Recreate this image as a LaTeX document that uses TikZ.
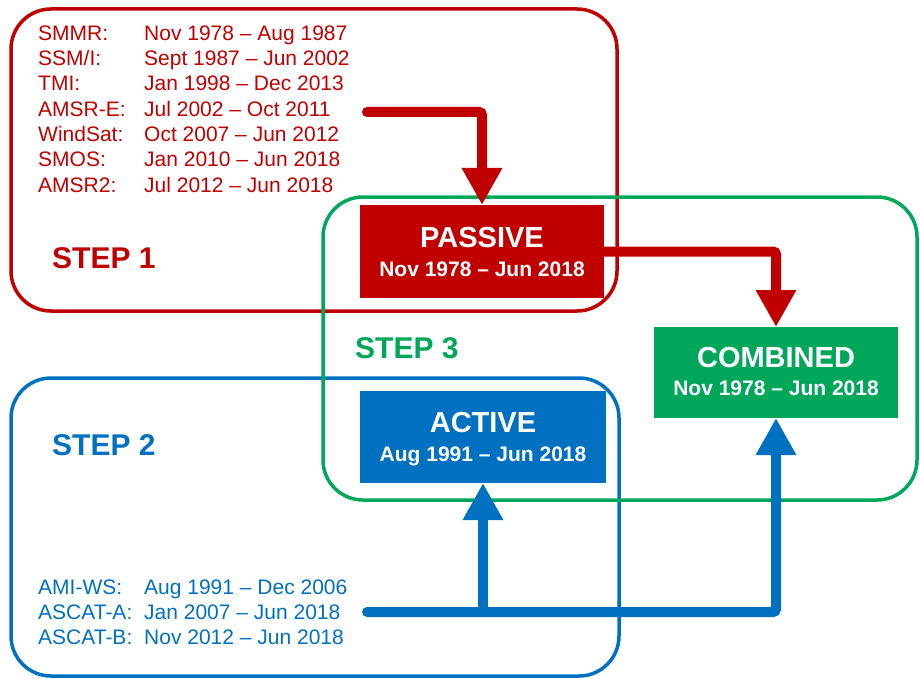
\documentclass[tikz,border=0pt]{standalone}
\usepackage{fontspec}
\setmainfont{Liberation Sans}
\usetikzlibrary{arrows.meta}
\definecolor{cred}{HTML}{C00000}
\definecolor{cblue}{HTML}{0070C0}
\definecolor{cgreen}{HTML}{00A65A}
\newcommand{\listfont}{\fontsize{21}{25}\selectfont}
\newcommand{\stepfont}{\fontsize{30}{32}\selectfont\bfseries}
\newcommand{\ttlfont}{\fontsize{29}{30}\selectfont\bfseries}
\newcommand{\subfont}{\fontsize{21}{23}\selectfont\bfseries}
\begin{document}
\begin{tikzpicture}[x=1pt,y=-1pt,
  frame/.style={line width=3.5pt, rounded corners=40pt},
  databox/.style={draw=none, inner sep=0pt, outer sep=0pt, minimum width=#1, minimum height=92pt},
  lst/.style={anchor=base west, inner sep=0pt, font=\listfont},
  steplbl/.style={anchor=base west, inner sep=0pt, font=\stepfont},
  ttl/.style={anchor=base, inner sep=0pt, text=white, font=\ttlfont},
  sub/.style={anchor=base, inner sep=0pt, text=white, font=\subfont},
  flow/.style={line width=10pt, rounded corners=3pt, line cap=round, -{Triangle[width=38pt,length=37pt]}}
]
\useasboundingbox (0,0) rectangle (920,679);
% frames
\draw[frame, cred] (11,9) rectangle (617,311);
\draw[frame, cblue] (11,378) rectangle (619,676);
\draw[frame, cgreen] (323,197) rectangle (917,500);
% data boxes
\node[databox=244pt, fill=cred, minimum height=93pt] (passive) at (482,251.5) {};
\node[databox=246pt, fill=cblue] (active) at (483,437) {};
\node[databox=244pt, fill=cgreen, minimum height=91pt] (combined) at (776,372.5) {};
\node[ttl] (passivet) at (482,247) {PASSIVE};
\node[sub] (passives) at (482,276) {Nov 1978 -- Jun 2018};
\node[ttl] (activet) at (483,432) {ACTIVE};
\node[sub] (actives) at (483,461) {Aug 1991 -- Jun 2018};
\node[ttl] (combinedt) at (776,367) {COMBINED};
\node[sub] (combineds) at (776,395) {Nov 1978 -- Jun 2018};
% step labels
\node[steplbl, text=cred] (step1) at (52,268) {STEP 1};
\node[steplbl, text=cblue] (step2) at (52,455) {STEP 2};
\node[steplbl, text=cgreen] (step3) at (355,358) {STEP 3};
% passive list
\begin{scope}[every node/.append style={text=cred}]
\node[lst] (l1) at (38,41) {SMMR:};     \node[lst] (d1) at (144,41) {Nov 1978 -- Aug 1987};
\node[lst] (l2) at (38,66) {SSM/I:};    \node[lst] (d2) at (144,66) {Sept 1987 -- Jun 2002};
\node[lst] (l3) at (38,91) {TMI:};      \node[lst] (d3) at (144,91) {Jan 1998 -- Dec 2013};
\node[lst] (l4) at (38,117) {AMSR-E:};  \node[lst] (d4) at (144,117) {Jul 2002 -- Oct 2011};
\node[lst] (l5) at (38,142) {WindSat:}; \node[lst] (d5) at (144,142) {Oct 2007 -- Jun 2012};
\node[lst] (l6) at (38,167) {SMOS:};    \node[lst] (d6) at (144,167) {Jan 2010 -- Jun 2018};
\node[lst] (l7) at (38,193) {AMSR2:};   \node[lst] (d7) at (144,193) {Jul 2012 -- Jun 2018};
\end{scope}
% active list
\begin{scope}[every node/.append style={text=cblue}]
\node[lst] (a1) at (38,594) {AMI-WS:};  \node[lst] (e1) at (144,594) {Aug 1991 -- Dec 2006};
\node[lst] (a2) at (38,619) {ASCAT-A:}; \node[lst] (e2) at (144,619) {Jan 2007 -- Jun 2018};
\node[lst] (a3) at (38,644) {ASCAT-B:}; \node[lst] (e3) at (144,644) {Nov 2012 -- Jun 2018};
\end{scope}
% connectors
\coordinate (pstart) at (367,112);
\coordinate (astart) at (367,612);
\coordinate (branch) at (active.south |- astart);
\draw[flow, cred] (pstart) -| (passive.north);
\draw[flow, cred, line cap=butt] (passive.east) -| (combined.north);
\draw[flow, cblue] (astart) -| (combined.south);
\draw[flow, cblue, line cap=butt] (branch) -- (active.south);
\end{tikzpicture}
\end{document}
